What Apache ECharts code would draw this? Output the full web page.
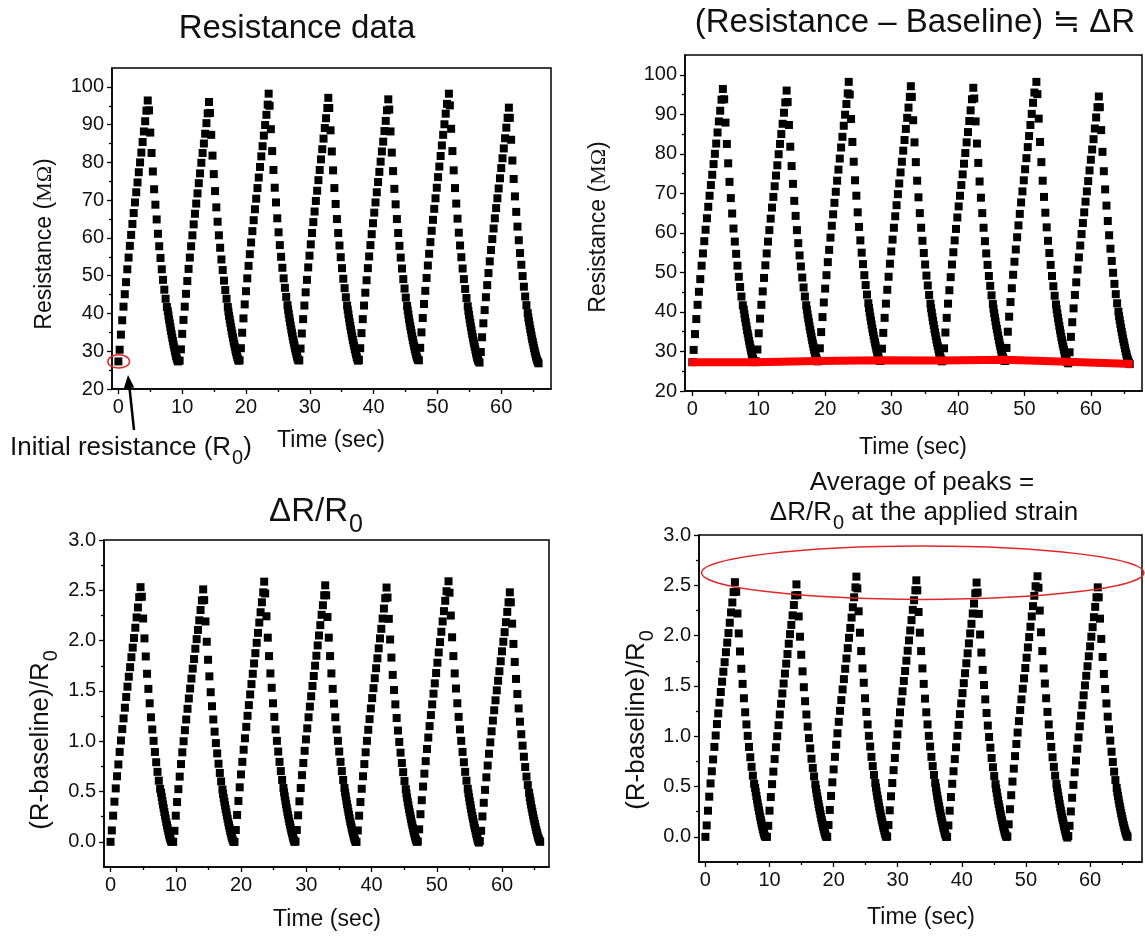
<!DOCTYPE html>
<html>
<head>
<meta charset="utf-8">
<script src="https://cdn.jsdelivr.net/npm/echarts@6/dist/echarts.min.js"></script>
<style>
html,body{margin:0;padding:0;background:#fff;}
#chart{width:1145px;height:945px;}
</style>
</head>
<body>
<div id="chart"></div>
<script>
// ---------------- DATA ----------------
// Time (sec) and resistance (MΩ) for each of the seven strain cycles
const cycle1Time = [0.0,0.2,0.4,0.6,0.8,1.0,1.2,1.4,1.6,1.8,2.0,2.2,2.4,2.6,2.8,3.0,3.2,3.4,3.6,3.8,4.0,4.2,4.4,4.6,
  4.8,5.0,5.2,5.4,5.6,5.8,6.0,6.2,6.4,6.6,6.8,7.0,7.2,7.4,7.6,
  7.75,7.85,7.95,8.05,8.15,8.25,8.35,8.45,8.55,8.65,8.75,8.85,8.95,9.05,9.15,9.25,9.35];
const cycle1Res = [27.3,30.4,34.4,38.2,41.8,45.1,48.3,51.7,54.8,57.9,60.8,63.7,66.6,69.4,72.1,74.7,77.4,80.0,82.6,85.4,88.2,90.9,93.7,96.4,
  93.8,87.9,82.5,77.6,72.9,68.8,64.9,61.1,57.8,54.7,51.7,48.9,46.3,43.9,41.7,
  40.6,39.5,38.4,37.4,36.4,35.4,34.5,33.6,32.7,31.8,31.0,30.2,29.4,28.7,28.1,27.6,27.3];

const cycle2Time = [9.6,9.8,10.0,10.2,10.4,10.6,10.8,11.0,11.2,11.4,11.6,11.8,12.0,12.2,12.4,12.6,12.8,13.0,13.2,13.4,13.6,13.8,14.0,14.2,
  14.35,14.55,14.75,14.95,15.15,15.35,15.55,15.75,15.95,16.15,16.35,16.55,16.75,16.95,17.15,
  17.25,17.35,17.45,17.55,17.65,17.75,17.85,17.95,18.05,18.15,18.25,18.35,18.45,18.55,18.65,18.75,18.85];
const cycle2Res = [27.5,30.5,34.6,38.3,41.8,45.2,48.6,51.8,54.8,57.8,60.7,63.6,66.4,69.1,71.8,74.5,77.1,79.9,82.5,85.0,87.6,90.4,93.0,96.0,
  93.1,87.3,81.8,76.9,72.4,68.1,64.3,60.7,57.4,54.3,51.5,48.7,46.2,43.9,41.7,
  40.5,39.4,38.4,37.4,36.4,35.5,34.6,33.7,32.8,32.0,31.2,30.4,29.7,29.0,28.4,27.9,27.5];

const cycle3Time = [19.0,19.2,19.4,19.6,19.8,20.0,20.2,20.4,20.6,20.8,21.0,21.2,21.4,21.6,21.8,22.0,22.2,22.4,22.6,22.8,23.0,23.2,23.4,23.55,
  23.7,23.9,24.1,24.3,24.5,24.7,24.9,25.1,25.3,25.5,25.7,25.9,26.1,26.3,26.5,
  26.6,26.7,26.8,26.9,27.0,27.1,27.2,27.3,27.4,27.5,27.6,27.7,27.8,27.9,28.0,28.1,28.2];
const cycle3Res = [27.6,30.8,34.9,38.7,42.4,45.9,49.3,52.6,55.7,58.8,61.8,64.7,67.6,70.4,73.2,76.0,78.8,81.6,84.3,87.1,89.9,92.6,95.3,98.2,
  95.0,88.8,83.0,78.0,73.3,69.4,65.2,61.5,58.1,55.0,52.1,49.3,46.8,44.4,42.2,
  41.0,39.9,38.8,37.8,36.8,35.8,34.9,34.0,33.1,32.3,31.5,30.7,30.0,29.3,28.6,28.0,27.6];

const cycle4Time = [28.35,28.55,28.75,28.95,29.15,29.35,29.55,29.75,29.95,30.15,30.35,30.55,30.75,30.95,31.15,31.35,31.55,31.75,31.95,32.15,32.35,32.55,32.75,32.9,
  33.05,33.25,33.45,33.65,33.85,34.05,34.25,34.45,34.65,34.85,35.05,35.25,35.45,35.65,35.85,
  35.95,36.05,36.15,36.25,36.35,36.45,36.55,36.65,36.75,36.85,36.95,37.05,37.15,37.25,37.35,37.45,37.55];
const cycle4Res = [27.6,30.7,34.7,38.5,42.1,45.6,48.9,52.2,55.3,58.3,61.3,64.2,67.0,69.8,72.5,75.3,78.0,80.8,83.5,86.3,89.1,91.7,94.4,97.1,
  94.4,88.5,82.9,77.9,73.2,69.0,65.0,61.3,58.0,54.9,52.0,49.2,46.7,44.3,42.1,
  40.9,39.8,38.7,37.7,36.7,35.7,34.8,33.9,33.0,32.2,31.4,30.6,29.9,29.2,28.5,28.0,27.5];

const cycle5Time = [37.7,37.9,38.1,38.3,38.5,38.7,38.9,39.1,39.3,39.5,39.7,39.9,40.1,40.3,40.5,40.7,40.9,41.1,41.3,41.5,41.7,41.9,42.1,42.3,
  42.45,42.65,42.85,43.05,43.25,43.45,43.65,43.85,44.05,44.25,44.45,44.65,44.85,45.05,45.25,
  45.35,45.45,45.55,45.65,45.75,45.85,45.95,46.05,46.15,46.25,46.35,46.45,46.55,46.65,46.75,46.85,46.95];
const cycle5Res = [27.7,30.8,34.8,38.5,42.1,45.5,48.8,52.0,55.1,58.1,61.0,63.9,66.7,69.4,72.1,74.8,77.5,80.2,82.9,85.5,88.3,91.0,93.8,96.7,
  94.0,88.2,82.6,77.7,73.0,68.9,65.0,61.3,57.9,54.8,51.9,49.1,46.6,44.2,42.0,
  40.8,39.7,38.6,37.6,36.6,35.7,34.8,33.9,33.0,32.2,31.4,30.6,29.9,29.2,28.6,28.1,27.7];

const cycle6Time = [47.1,47.3,47.5,47.7,47.9,48.1,48.3,48.5,48.7,48.9,49.1,49.3,49.5,49.7,49.9,50.1,50.3,50.5,50.7,50.9,51.1,51.3,51.5,51.8,
  51.95,52.15,52.35,52.55,52.75,52.95,53.15,53.35,53.55,53.75,53.95,54.15,54.35,54.55,54.75,
  54.85,54.95,55.05,55.15,55.25,55.35,55.45,55.55,55.65,55.75,55.85,55.95,56.05,56.15,56.25,56.35,56.45];
const cycle6Res = [27.6,30.9,35.0,38.8,42.5,46.0,49.4,52.7,55.8,58.9,61.9,64.8,67.7,70.5,73.3,76.1,78.9,81.7,84.5,87.3,90.1,92.9,95.5,98.2,
  95.1,88.9,83.0,77.9,73.2,69.1,65.1,61.4,58.0,54.9,51.9,49.1,46.5,44.1,41.9,
  40.7,39.6,38.5,37.5,36.5,35.5,34.6,33.7,32.8,32.0,31.2,30.4,29.6,28.9,28.2,27.7,27.3];

const cycle7Time = [56.6,56.8,57.0,57.2,57.4,57.6,57.8,58.0,58.2,58.4,58.6,58.8,59.0,59.2,59.4,59.6,59.8,60.0,60.2,60.4,60.6,60.8,61.0,61.2,
  61.35,61.55,61.75,61.95,62.15,62.35,62.55,62.75,62.95,63.15,63.35,63.55,63.75,63.95,64.15,
  64.25,64.35,64.45,64.55,64.65,64.75,64.85,64.95,65.05,65.15,65.25,65.35,65.45,65.55,65.65,65.75,65.85];
const cycle7Res = [27.0,29.8,33.7,37.4,40.9,44.3,47.5,50.7,53.8,56.8,59.7,62.5,65.2,67.9,70.5,73.1,75.8,78.5,81.1,83.7,86.4,89.2,91.8,94.5,
  91.8,86.0,80.5,75.6,71.0,66.9,63.0,59.4,56.0,52.9,49.9,47.1,44.5,42.2,40.1,
  38.9,37.9,36.9,35.9,35.0,34.1,33.2,32.4,31.6,30.8,30.0,29.3,28.6,28.0,27.5,27.1,26.8];

// Baseline (red band) of the resistance signal
const baselineTime = [-0.5, 9.4, 18.9, 28.2, 37.5, 47.0, 56.4, 66.3];
const baselineRes  = [27.3, 27.3, 27.6, 27.8, 27.7, 27.9, 27.4, 26.8];
// Baseline value used for each cycle, and the initial resistance R0
const cycleBaseline = [27.3, 27.5, 27.6, 27.5, 27.7, 27.5, 26.8];
const R0 = 27.3;

// Tick values
const timeTicks = [0, 10, 20, 30, 40, 50, 60];
const timeMinorTicks = [5, 15, 25, 35, 45, 55, 65];
const resTicks = [20, 30, 40, 50, 60, 70, 80, 90, 100];
const resMinorTicks = [25, 35, 45, 55, 65, 75, 85, 95];
const ratioTicks = [0, 0.5, 1.0, 1.5, 2.0, 2.5, 3.0];
const ratioMinorTicks = [0.25, 0.75, 1.25, 1.75, 2.25, 2.75];

// Annotation ellipses [centre time, centre value, half-width (sec), half-height]
const r0Ellipse = [[0.05, 27.3, 1.7, 1.75]];
const peakEllipse = [[33.9, 2.625, 34.5, 0.265]];

// ---------------- BUILD ----------------
const cycleTimes = [cycle1Time, cycle2Time, cycle3Time, cycle4Time, cycle5Time, cycle6Time, cycle7Time];
const cycleRes = [cycle1Res, cycle2Res, cycle3Res, cycle4Res, cycle5Res, cycle6Res, cycle7Res];
const resPoints = [], ratioPoints = [];
cycleTimes.forEach((ts, i) => ts.forEach((t, j) => {
  resPoints.push([t, cycleRes[i][j]]);
  ratioPoints.push([t, (cycleRes[i][j] - cycleBaseline[i]) / R0]);
}));
const baselinePoints = baselineTime.map((t, i) => [t, baselineRes[i]]);

const FONT = 'Liberation Sans, Arial, DejaVu Sans, sans-serif';
const INK = '#111';

const grids = [
  {left: 112, top: 68,  width: 439, height: 321},
  {left: 685, top: 55,  width: 457, height: 336},
  {left: 104, top: 540, width: 445, height: 327},
  {left: 699, top: 535, width: 443, height: 327}
].map(g => Object.assign(g, {show: true, borderColor: '#000', borderWidth: 1.5, backgroundColor: 'transparent', containLabel: false}));

function axisPair(dir, gridIndex, min, max, major, minor, fmt) {
  const base = {type: 'value', gridIndex, min, max, position: dir === 'x' ? 'bottom' : 'left',
    splitLine: {show: false}, minorTick: {show: false}};
  const main = Object.assign({}, base, {
    axisLine: {show: true, onZero: false, lineStyle: {color: '#000', width: 1.5}},
    axisTick: {show: true, inside: false, length: 5, customValues: major, lineStyle: {color: '#000', width: 1.3}},
    axisLabel: {show: true, customValues: major, margin: 8, fontSize: 20, color: INK, fontFamily: FONT,
      formatter: fmt}
  });
  const sub = Object.assign({}, base, {
    axisLine: {show: false, onZero: false},
    axisTick: {show: true, inside: false, length: 3, customValues: minor, lineStyle: {color: '#000', width: 1.3}},
    axisLabel: {show: false}
  });
  return [main, sub];
}
const intFmt = v => String(Math.round(v));
const decFmt = v => v.toFixed(1);

const xRanges = [[-1, 67.8], [-1.1, 67.7], [-1.0, 67.2], [-1.0, 68.1]];
const yRanges = [[20, 105], [20, 105], [-0.25, 3.0], [-0.25, 3.0]];
const xAxes = [], yAxes = [];
for (let g = 0; g < 4; g++) {
  xAxes.push(...axisPair('x', g, xRanges[g][0], xRanges[g][1], timeTicks, timeMinorTicks, intFmt));
  const isRes = g < 2;
  yAxes.push(...axisPair('y', g, yRanges[g][0], yRanges[g][1],
    isRes ? resTicks : ratioTicks, isRes ? resMinorTicks : ratioMinorTicks, isRes ? intFmt : decFmt));
}

function scatter(g, data) {
  return {type: 'scatter', xAxisIndex: 2 * g, yAxisIndex: 2 * g, data, symbol: 'rect', symbolSize: 8,
    itemStyle: {color: '#000', opacity: 1}, silent: true, z: 3};
}
function ellipseSeries(g, data, lw) {
  return {type: 'custom', xAxisIndex: 2 * g, yAxisIndex: 2 * g, data, silent: true, z: 5, clip: false,
    renderItem: (params, api) => {
      const c = api.coord([api.value(0), api.value(1)]);
      const s = api.size([api.value(2), api.value(3)]);
      return {type: 'ellipse', shape: {cx: c[0], cy: c[1], rx: s[0], ry: s[1]},
        style: {fill: 'none', stroke: '#e0282a', lineWidth: lw}};
    }};
}

function text(x, y, str, size, opts) {
  const o = opts || {};
  const el = {type: 'text', x, y, silent: true, z: 10,
    style: Object.assign({text: str, fontSize: size, fontFamily: FONT, fill: INK,
      align: 'center', verticalAlign: 'middle'}, o.style || {})};
  if (o.rotation) el.rotation = o.rotation;
  return el;
}
const subRich = size => ({s: {fontSize: size, fontFamily: FONT, fill: INK, padding: [Math.round(size * 1.05), 0, 0, 1]}});

const arrowTail = [134, 430], arrowTip = [128, 375];

const option = {
  backgroundColor: '#fff',
  animation: false,
  grid: grids,
  xAxis: xAxes,
  yAxis: yAxes,
  series: [
    scatter(0, resPoints),
    scatter(1, resPoints),
    {type: 'line', xAxisIndex: 2, yAxisIndex: 2, data: baselinePoints, symbol: 'none', silent: true, z: 4,
      lineStyle: {color: '#ff0000', width: 8}},
    scatter(2, ratioPoints),
    scatter(3, ratioPoints),
    ellipseSeries(0, r0Ellipse, 1.5),
    ellipseSeries(3, peakEllipse, 1.5)
  ],
  graphic: [
    text(297, 29, 'Resistance data', 33),
    text(915, 23, '(Resistance – Baseline) ≒ ΔR', 33),
    text(316, 512, 'ΔR/R{s|0}', 33, {style: {rich: subRich(25)}}),
    text(922, 483, 'Average of peaks =', 26),
    text(924, 513, 'ΔR/R{s|0} at the applied strain', 26, {style: {rich: subRich(20)}}),
    text(331, 441, 'Time (sec)', 23),
    text(913, 448, 'Time (sec)', 23),
    text(327, 920, 'Time (sec)', 23),
    text(921, 918, 'Time (sec)', 23),
    text(45, 244, 'Resistance ({m|MΩ})', 23, {rotation: Math.PI / 2,
      style: {rich: {m: {fontSize: 22, fontFamily: 'Liberation Serif, Times New Roman, serif', fill: INK}}}}),
    text(599, 227, 'Resistance ({m|MΩ})', 23, {rotation: Math.PI / 2,
      style: {rich: {m: {fontSize: 22, fontFamily: 'Liberation Serif, Times New Roman, serif', fill: INK}}}}),
    text(41, 740, '(R-baseline)/R{s|0}', 26, {rotation: Math.PI / 2, style: {rich: subRich(20)}}),
    text(637, 720, '(R-baseline)/R{s|0}', 26, {rotation: Math.PI / 2, style: {rich: subRich(20)}}),
    text(10, 448, 'Initial resistance (R{s|0})', 26, {style: {align: 'left', rich: subRich(20)}}),
    {type: 'line', silent: true, z: 10,
      shape: {x1: arrowTail[0], y1: arrowTail[1], x2: 129.3, y2: 386},
      style: {stroke: '#000', lineWidth: 2.5}},
    {type: 'polygon', silent: true, z: 10,
      shape: {points: [arrowTip, [134.3, 387.4], [123.8, 388.4]]},
      style: {fill: '#000'}}
  ]
};

const chart = echarts.init(document.getElementById('chart'), null, {renderer: 'canvas'});
chart.setOption(option);
</script>
</body>
</html>
